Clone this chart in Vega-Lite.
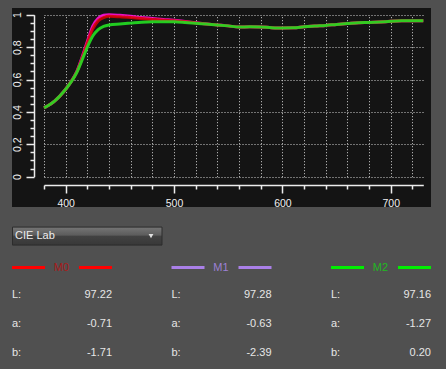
{
  "$schema": "https://vega.github.io/schema/vega-lite/v6.json",
  "background": "#505050",
  "padding": {"left": 12, "top": 8, "right": 15, "bottom": 0},
  "spacing": 5,
  "bounds": "flush",
  "config": {"view": {"stroke": null}, "font": "Liberation Sans"},
  "datasets": {
    "curves": [
      {"s":"M1","nm":380,"v":0.425},{"s":"M1","nm":390,"v":0.468},{"s":"M1","nm":400,"v":0.54},{"s":"M1","nm":405,"v":0.587},{"s":"M1","nm":410,"v":0.645},{"s":"M1","nm":415,"v":0.735},{"s":"M1","nm":420,"v":0.835},{"s":"M1","nm":425,"v":0.93},{"s":"M1","nm":430,"v":0.978},{"s":"M1","nm":435,"v":0.997},{"s":"M1","nm":440,"v":1.0},{"s":"M1","nm":450,"v":0.996},{"s":"M1","nm":460,"v":0.99},{"s":"M1","nm":470,"v":0.982},{"s":"M1","nm":480,"v":0.977},{"s":"M1","nm":490,"v":0.971},{"s":"M1","nm":500,"v":0.966},{"s":"M1","nm":510,"v":0.958},{"s":"M1","nm":520,"v":0.95},{"s":"M1","nm":530,"v":0.943},{"s":"M1","nm":540,"v":0.937},{"s":"M1","nm":550,"v":0.931},{"s":"M1","nm":560,"v":0.924},{"s":"M1","nm":570,"v":0.925},{"s":"M1","nm":580,"v":0.924},{"s":"M1","nm":590,"v":0.92},{"s":"M1","nm":600,"v":0.918},{"s":"M1","nm":610,"v":0.919},{"s":"M1","nm":620,"v":0.925},{"s":"M1","nm":630,"v":0.93},{"s":"M1","nm":640,"v":0.934},{"s":"M1","nm":650,"v":0.94},{"s":"M1","nm":660,"v":0.945},{"s":"M1","nm":670,"v":0.95},{"s":"M1","nm":680,"v":0.952},{"s":"M1","nm":690,"v":0.955},{"s":"M1","nm":700,"v":0.959},{"s":"M1","nm":710,"v":0.962},{"s":"M1","nm":720,"v":0.963},{"s":"M1","nm":730,"v":0.963},
      {"s":"M0","nm":380,"v":0.425},{"s":"M0","nm":390,"v":0.468},{"s":"M0","nm":400,"v":0.54},{"s":"M0","nm":405,"v":0.587},{"s":"M0","nm":410,"v":0.643},{"s":"M0","nm":415,"v":0.728},{"s":"M0","nm":420,"v":0.825},{"s":"M0","nm":425,"v":0.912},{"s":"M0","nm":430,"v":0.962},{"s":"M0","nm":435,"v":0.982},{"s":"M0","nm":440,"v":0.99},{"s":"M0","nm":450,"v":0.987},{"s":"M0","nm":460,"v":0.982},{"s":"M0","nm":470,"v":0.976},{"s":"M0","nm":480,"v":0.971},{"s":"M0","nm":490,"v":0.966},{"s":"M0","nm":500,"v":0.962},{"s":"M0","nm":510,"v":0.956},{"s":"M0","nm":520,"v":0.949},{"s":"M0","nm":530,"v":0.942},{"s":"M0","nm":540,"v":0.937},{"s":"M0","nm":550,"v":0.931},{"s":"M0","nm":560,"v":0.924},{"s":"M0","nm":570,"v":0.925},{"s":"M0","nm":580,"v":0.924},{"s":"M0","nm":590,"v":0.92},{"s":"M0","nm":600,"v":0.918},{"s":"M0","nm":610,"v":0.919},{"s":"M0","nm":620,"v":0.925},{"s":"M0","nm":630,"v":0.93},{"s":"M0","nm":640,"v":0.934},{"s":"M0","nm":650,"v":0.94},{"s":"M0","nm":660,"v":0.945},{"s":"M0","nm":670,"v":0.95},{"s":"M0","nm":680,"v":0.952},{"s":"M0","nm":690,"v":0.955},{"s":"M0","nm":700,"v":0.959},{"s":"M0","nm":710,"v":0.962},{"s":"M0","nm":720,"v":0.963},{"s":"M0","nm":730,"v":0.963},
      {"s":"M2","nm":380,"v":0.425},{"s":"M2","nm":390,"v":0.468},{"s":"M2","nm":400,"v":0.54},{"s":"M2","nm":405,"v":0.585},{"s":"M2","nm":410,"v":0.64},{"s":"M2","nm":415,"v":0.718},{"s":"M2","nm":420,"v":0.8},{"s":"M2","nm":425,"v":0.868},{"s":"M2","nm":430,"v":0.908},{"s":"M2","nm":435,"v":0.928},{"s":"M2","nm":440,"v":0.937},{"s":"M2","nm":450,"v":0.943},{"s":"M2","nm":460,"v":0.948},{"s":"M2","nm":470,"v":0.953},{"s":"M2","nm":480,"v":0.956},{"s":"M2","nm":490,"v":0.957},{"s":"M2","nm":500,"v":0.956},{"s":"M2","nm":510,"v":0.952},{"s":"M2","nm":520,"v":0.947},{"s":"M2","nm":530,"v":0.942},{"s":"M2","nm":540,"v":0.937},{"s":"M2","nm":550,"v":0.931},{"s":"M2","nm":560,"v":0.924},{"s":"M2","nm":570,"v":0.925},{"s":"M2","nm":580,"v":0.924},{"s":"M2","nm":590,"v":0.92},{"s":"M2","nm":600,"v":0.918},{"s":"M2","nm":610,"v":0.919},{"s":"M2","nm":620,"v":0.925},{"s":"M2","nm":630,"v":0.93},{"s":"M2","nm":640,"v":0.934},{"s":"M2","nm":650,"v":0.94},{"s":"M2","nm":660,"v":0.945},{"s":"M2","nm":670,"v":0.95},{"s":"M2","nm":680,"v":0.952},{"s":"M2","nm":690,"v":0.955},{"s":"M2","nm":700,"v":0.959},{"s":"M2","nm":710,"v":0.962},{"s":"M2","nm":720,"v":0.963},{"s":"M2","nm":730,"v":0.963}
    ],
    "dropdown": [{"col": 0, "row": "dropdown", "label": "CIE Lab"}],
    "legend": [{"col": 0, "name": "M0"}, {"col": 1, "name": "M1"}, {"col": 2, "name": "M2"}],
    "lab": [
      {"col": 0, "row": "L", "key": "L:", "value": "97.22"},
      {"col": 0, "row": "a", "key": "a:", "value": "-0.71"},
      {"col": 0, "row": "b", "key": "b:", "value": "-1.71"},
      {"col": 1, "row": "L", "key": "L:", "value": "97.28"},
      {"col": 1, "row": "a", "key": "a:", "value": "-0.63"},
      {"col": 1, "row": "b", "key": "b:", "value": "-2.39"},
      {"col": 2, "row": "L", "key": "L:", "value": "97.16"},
      {"col": 2, "row": "a", "key": "a:", "value": "-1.27"},
      {"col": 2, "row": "b", "key": "b:", "value": "0.20"}
    ]
  },
  "vconcat": [
    {
      "width": 419,
      "height": 199,
      "view": {"fill": "#141414", "stroke": null},
      "data": {"name": "curves"},
      "encoding": {
        "y": {
          "field": "v", "type": "quantitative",
          "scale": {"domain": [0, 1], "range": [168.7, 6.7], "nice": false, "zero": false},
          "axis": {
            "orient": "left", "offset": -22, "title": null,
            "values": [0,0.05,0.1,0.15,0.2,0.25,0.3,0.35,0.4,0.45,0.5,0.55,0.6,0.65,0.7,0.75,0.8,0.85,0.9,0.95,1],
            "labelExpr": "abs(datum.value*5-round(datum.value*5)) < 0.001 ? replace(format(datum.value, '~g'), '.', ',') : ''",
            "labelFlush": false, "labelOverlap": false,
            "labelAngle": 270, "labelAlign": "center", "labelBaseline": "bottom",
            "domainColor": "#ececec", "domainWidth": 1.5,
            "tickColor": "#ececec", "tickWidth": 1.5,
            "tickSize": {"condition": {"test": "abs(datum.value*5-round(datum.value*5)) < 0.001", "value": 8}, "value": 4},
            "labelColor": "#f0f0f0", "labelFont": "Liberation Sans", "labelFontSize": 10.5, "labelPadding": 4,
            "grid": true, "gridColor": "#d0d0d0", "gridDash": [1, 2], "gridWidth": 1,
            "gridOpacity": {"condition": {"test": "abs(datum.value*5-round(datum.value*5)) < 0.001", "value": 1}, "value": 0}
          }
        }
      },
      "layer": [
        {
          "transform": [{"filter": "datum.s == 'M1'"}],
          "mark": {"type": "line", "interpolate": "monotone", "strokeWidth": 3, "color": "#ff10d8", "opacity": 0.9},
          "encoding": {
            "x": {
              "field": "nm", "type": "quantitative",
              "scale": {"domain": [380, 730], "range": [32, 411.3], "nice": false, "zero": false},
              "axis": {
                "orient": "bottom", "offset": -22, "title": null,
                "values": [380,400,420,440,460,480,500,520,540,560,580,600,620,640,660,680,700,720],
                "labelExpr": "datum.value % 100 == 0 ? datum.label : ''",
                "labelFlush": false, "labelOverlap": false,
                "domainColor": "#ececec", "domainWidth": 1.5,
                "tickColor": "#ececec", "tickWidth": 1.5,
                "tickSize": {"condition": {"test": "datum.value % 100 == 0", "value": 8}, "value": 4},
                "labelColor": "#f0f0f0", "labelFont": "Liberation Sans", "labelFontSize": 10.5, "labelPadding": 5,
                "grid": false
              }
            }
          }
        },
        {
          "transform": [{"filter": "datum.s == 'M0'"}],
          "mark": {"type": "line", "interpolate": "monotone", "strokeWidth": 3, "color": "#d80000", "opacity": 0.85},
          "encoding": {
            "x": {
              "field": "nm", "type": "quantitative",
              "scale": {"domain": [380, 730], "range": [32, 411.3], "nice": false, "zero": false},
              "axis": {
                "orient": "top", "offset": 0, "title": null,
                "values": [380,400,420,440,460,480,500,520,540,560,580,600,620,640,660,680,700,720],
                "domain": false, "ticks": false, "labels": false,
                "grid": true, "gridColor": "#d0d0d0", "gridDash": [1, 2], "gridWidth": 1
              }
            }
          }
        },
        {
          "transform": [{"filter": "datum.s == 'M2'"}],
          "mark": {"type": "line", "interpolate": "monotone", "strokeWidth": 3, "color": "#22e022", "opacity": 0.9},
          "encoding": {
            "x": {
              "field": "nm", "type": "quantitative",
              "scale": {"domain": [380, 730], "range": [32, 411.3], "nice": false, "zero": false},
              "axis": null
            }
          }
        }
      ],
      "resolve": {"axis": {"x": "independent"}}
    },
    {
      "width": 419,
      "height": 157,
      "view": {"stroke": null},
      "encoding": {
        "x": {"field": "col", "type": "quantitative", "scale": {"domain": [0, 2], "range": [0, 319], "nice": false, "zero": false}, "axis": null},
        "y": {"field": "row", "type": "nominal", "scale": {"type": "point", "domain": ["dropdown", "legend", "L", "a", "b"], "range": [25.1, 141.1], "padding": 0}, "axis": null}
      },
      "layer": [
        {
          "data": {"name": "dropdown"},
          "mark": {"type": "rect", "xOffset": 0.5, "x2Offset": 150, "yOffset": -10, "y2Offset": 8, "stroke": "#2c2c2c", "strokeWidth": 1,
            "fill": {"gradient": "linear", "x1": 0, "y1": 0, "x2": 0, "y2": 1, "stops": [{"offset": 0, "color": "#767676"}, {"offset": 0.45, "color": "#5c5c5c"}, {"offset": 0.5, "color": "#424242"}, {"offset": 1, "color": "#383838"}]}},
          "encoding": {"x2": {"field": "col"}, "y2": {"field": "row"}}
        },
        {
          "data": {"name": "dropdown"},
          "mark": {"type": "text", "align": "left", "baseline": "middle", "xOffset": 3, "yOffset": -1, "fontSize": 11, "font": "Liberation Sans", "color": "#ececec"},
          "encoding": {"text": {"field": "label"}}
        },
        {
          "data": {"name": "dropdown"},
          "mark": {"type": "point", "shape": "triangle-down", "filled": true, "size": 22, "xOffset": 139, "yOffset": -1, "color": "#e0e0e0", "opacity": 1},
          "encoding": {}
        },
        {
          "data": {"name": "legend"},
          "mark": {"type": "rect", "xOffset": 0, "x2Offset": 33, "yOffset": 0, "y2Offset": 3},
          "encoding": {"y": {"datum": "legend"}, "y2": {"datum": "legend"}, "x2": {"field": "col"},
            "color": {"field": "name", "type": "nominal", "scale": {"domain": ["M0", "M1", "M2"], "range": ["#ff0000", "#aa80e8", "#00ee00"]}, "legend": null}}
        },
        {
          "data": {"name": "legend"},
          "mark": {"type": "rect", "xOffset": 67, "x2Offset": 100, "yOffset": 0, "y2Offset": 3},
          "encoding": {"y": {"datum": "legend"}, "y2": {"datum": "legend"}, "x2": {"field": "col"},
            "color": {"field": "name", "type": "nominal", "scale": {"domain": ["M0", "M1", "M2"], "range": ["#ff0000", "#aa80e8", "#00ee00"]}, "legend": null}}
        },
        {
          "data": {"name": "legend"},
          "mark": {"type": "text", "align": "center", "baseline": "middle", "xOffset": 49.5, "yOffset": 2, "fontSize": 11, "font": "Liberation Sans"},
          "encoding": {"y": {"datum": "legend"}, "text": {"field": "name"},
            "fill": {"field": "name", "type": "nominal", "scale": {"domain": ["M0", "M1", "M2"], "range": ["#a81a1a", "#9c80d4", "#22b822"]}, "legend": null}}
        },
        {
          "data": {"name": "lab"},
          "mark": {"type": "text", "align": "left", "baseline": "middle", "fontSize": 11, "font": "Liberation Sans", "color": "#e6e6e6"},
          "encoding": {"text": {"field": "key"}}
        },
        {
          "data": {"name": "lab"},
          "mark": {"type": "text", "align": "right", "baseline": "middle", "xOffset": 100, "fontSize": 11, "font": "Liberation Sans", "color": "#e6e6e6"},
          "encoding": {"text": {"field": "value"}}
        }
      ]
    }
  ]
}
